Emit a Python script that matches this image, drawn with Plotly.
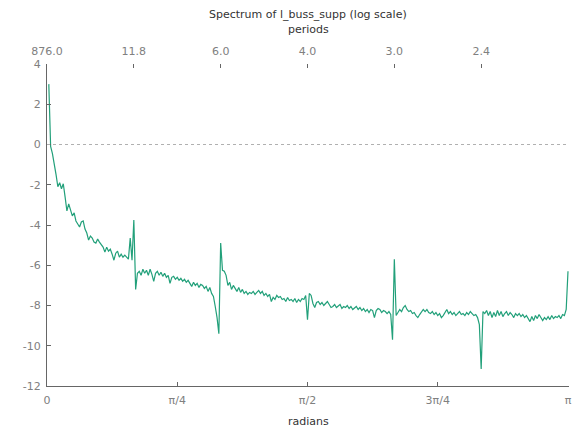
import numpy as np
import plotly.graph_objects as go

# log spectrum values (288 frequency points from 0 to pi)
log_spectrum = [
    3.0, -0.1, -0.45, -0.9, -1.5, -2.1, -1.9, -2.2, -1.95, -2.6,
    -3.3, -2.95, -3.2, -3.55, -3.4, -3.8, -3.95, -4.1, -3.85, -3.8,
    -4.2, -4.4, -4.75, -4.55, -4.65, -4.85, -4.9, -4.7, -4.85, -4.95,
    -5.1, -5.35, -5.1, -5.3, -5.2, -5.45, -5.75, -5.4, -5.3, -5.6,
    -5.45, -5.6, -5.5, -5.6, -5.7, -4.65, -5.75, -3.75, -7.2, -6.4,
    -6.3, -6.5, -6.2, -6.4, -6.25, -6.5, -6.2, -6.45, -6.8, -6.4,
    -6.3, -6.5, -6.35, -6.55, -6.4, -6.6, -6.5, -6.9, -6.6, -6.55,
    -6.7, -6.6, -6.75, -6.65, -6.8, -6.7, -6.85, -6.75, -6.9, -7.05,
    -6.85, -7.0, -6.9, -7.1, -6.95, -7.0, -7.15, -7.05, -7.3, -7.1,
    -7.4, -7.55, -8.05, -8.6, -9.4, -4.9, -6.25, -6.3, -6.5, -7.0,
    -6.85, -7.2, -7.0, -7.15, -7.3, -7.1, -7.35, -7.2, -7.4, -7.3,
    -7.45, -7.35, -7.4, -7.3, -7.45, -7.35, -7.25, -7.4, -7.3, -7.5,
    -7.4, -7.55, -7.45, -7.8, -7.6, -7.7, -7.5, -7.6, -7.55, -7.7,
    -7.65, -7.8, -7.6, -7.75, -7.7, -7.8, -7.65, -7.85, -7.7, -7.8,
    -7.65, -7.7, -7.5, -8.7, -7.4, -7.5, -7.9, -8.1, -7.85, -7.8,
    -7.95, -7.85, -8.0, -7.9, -7.8, -7.95, -8.1, -8.05, -7.95, -8.1,
    -8.0, -7.95, -8.15, -8.05, -8.1, -8.0, -8.15, -8.05, -8.2, -8.1,
    -8.05, -8.2, -8.1, -8.25, -8.15, -8.3, -8.2, -8.35, -8.2, -8.25,
    -8.6, -8.25, -8.15, -8.2, -8.35, -8.25, -8.3, -8.4, -8.3, -8.45,
    -9.7, -5.7, -8.5, -8.35, -8.2, -8.3, -8.1, -8.0, -8.2, -8.3,
    -8.25, -8.4, -8.35, -8.5, -8.6, -8.45, -8.35, -8.2, -8.3, -8.2,
    -8.35, -8.4, -8.3, -8.45, -8.35, -8.5, -8.4, -8.6, -8.5, -8.35,
    -8.2, -8.4, -8.3, -8.45, -8.35, -8.5, -8.4, -8.3, -8.45, -8.4,
    -8.5, -8.35, -8.45, -8.3, -8.4, -8.5, -8.45, -8.6, -8.95, -11.15,
    -8.3, -8.4, -8.25, -8.5, -8.3, -8.6, -8.35, -8.55, -8.25, -8.5,
    -8.3, -8.55, -8.4, -8.3, -8.5, -8.35, -8.45, -8.6, -8.4, -8.5,
    -8.4, -8.55, -8.45, -8.6, -8.5, -8.65, -8.8, -8.55, -8.75, -8.5,
    -8.65, -8.45, -8.6, -8.75, -8.6, -8.7, -8.55, -8.7, -8.5, -8.65,
    -8.55, -8.6, -8.5, -8.65, -8.45, -8.5, -8.2, -6.3,
]
n_points = 288
radians = [np.pi * (i + 1) / n_points for i in range(len(log_spectrum))]

bottom_tickvals = [0, np.pi / 4, np.pi / 2, 3 * np.pi / 4, np.pi]
bottom_ticktext = ["0", "π/4", "π/2", "3π/4", "π"]
top_tickvals = [0, np.pi / 6, np.pi / 3, np.pi / 2, 2 * np.pi / 3, 5 * np.pi / 6, np.pi]
top_ticktext = ["876.0", "11.8", "6.0", "4.0", "3.0", "2.4", ""]
y_tickvals = [4, 2, 0, -2, -4, -6, -8, -10, -12]
y_ticktext = ["4", "2", "0", "-2", "-4", "-6", "-8", "-10", "-12"]

FONT = "DejaVu Sans"
GREY = "#808080"
AXIS = "#666666"
x_range = [0, np.pi * 522 / 521]

fig = go.Figure()
fig.add_trace(go.Scatter(
    x=radians, y=log_spectrum, mode="lines",
    line=dict(color="#22a07a", width=1.2), showlegend=False, hoverinfo="skip",
))
# invisible trace to activate top axis
fig.add_trace(go.Scatter(x=[0, np.pi], y=[None, None], xaxis="x2", showlegend=False,
                         hoverinfo="skip"))

fig.add_shape(type="line", xref="x", yref="y", x0=0, x1=x_range[1], y0=0, y1=0,
              line=dict(color="#b0b0b0", width=1, dash="dot"))

fig.update_layout(
    width=576, height=435,
    margin=dict(l=47, r=7, t=64, b=49),
    paper_bgcolor="white", plot_bgcolor="white",
    font=dict(family=FONT, size=11, color=GREY),
    xaxis=dict(
        range=x_range, tickvals=bottom_tickvals, ticktext=bottom_ticktext,
        showgrid=False, zeroline=False, showline=True, linecolor=AXIS, linewidth=1,
        ticks="inside", ticklen=4, tickcolor=AXIS, ticklabelstandoff=4,
        automargin=False,
        tickfont=dict(family=FONT, size=11, color=GREY),
    ),
    xaxis2=dict(
        range=x_range, overlaying="x", side="top", tickvals=top_tickvals,
        ticktext=top_ticktext, showgrid=False, zeroline=False, showline=False,
        ticks="inside", ticklen=4, tickcolor=AXIS, ticklabelstandoff=6,
        automargin=False,
        tickfont=dict(family=FONT, size=11, color=GREY),
    ),
    yaxis=dict(
        range=[-12, 4], tickvals=y_tickvals, ticktext=y_ticktext,
        showgrid=False, zeroline=False, showline=True, linecolor=AXIS, linewidth=1,
        ticks="inside", ticklen=4, tickcolor=AXIS, ticklabelstandoff=3,
        automargin=False,
        tickfont=dict(family=FONT, size=11, color=GREY),
    ),
    annotations=[
        dict(text="Spectrum of l_buss_supp (log scale)", xref="paper", yref="paper",
             x=0.5, y=(386 - 14) / 322, xanchor="center", yanchor="middle",
             showarrow=False, font=dict(family=FONT, size=11, color="#333333")),
        dict(text="periods", xref="paper", yref="paper",
             x=0.5, y=(386 - 30) / 322, xanchor="center", yanchor="middle",
             showarrow=False, font=dict(family=FONT, size=11, color="#333333")),
        dict(text="radians", xref="paper", yref="paper",
             x=0.5, y=(386 - 421) / 322, xanchor="center", yanchor="middle",
             showarrow=False, font=dict(family=FONT, size=11, color="#333333")),
    ],
)

fig.write_html("out.html", config={"displayModeBar": False},
               post_script="document.body.style.margin='0';")
